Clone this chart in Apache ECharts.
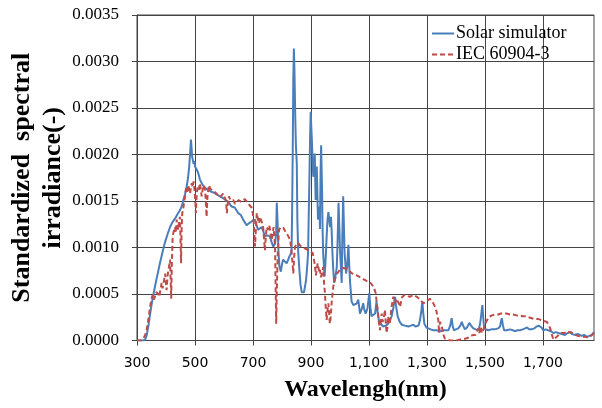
<!DOCTYPE html>
<html>
<head>
<meta charset="utf-8">
<script src="https://cdn.jsdelivr.net/npm/echarts@6/dist/echarts.min.js"></script>
<style>
html,body{margin:0;padding:0;background:#fff;}
#chart{width:602px;height:408px;}
</style>
</head>
<body>
<div id="chart"></div>
<script>
const seriesNames = ['Solar simulator', 'IEC 60904-3'];
const xTickValues = [300, 500, 700, 900, 1100, 1300, 1500, 1700];
const xTickLabels = ['300', '500', '700', '900', '1,100', '1,300', '1,500', '1,700'];
const xRange = [300, 1876];
const yRange = [0, 0.0035];
const yStep = 0.0005;

// Solar simulator: [wavelength nm, standardized irradiance]
const solarSimulator = [
[300,0],[320,0],[328,0.00001],[333,0.00005],[339,0.00015],[345,0.00028],[351,0.0004],[357,0.0005],
[362,0.00058],[370,0.0007],[379,0.00083],[388,0.00095],[396,0.00105],[405,0.00114],[414,0.00122],
[422,0.00127],[431,0.00131],[440,0.00136],[448,0.0014],[455,0.00145],[460,0.00151],[466,0.00158],
[471,0.00165],[476,0.00175],[480,0.00187],[484,0.00205],[486,0.00216],[488,0.00208],[490,0.00198],
[492,0.002],[495,0.0019],[498,0.00193],[500,0.00187],[504,0.00185],[509,0.00182],[513,0.00178],
[517,0.00173],[525,0.00168],[534,0.00164],[545,0.00162],[556,0.0016],[565,0.00159],[575,0.00157],
[586,0.00155],[597,0.00153],[603,0.00153],[615,0.00149],[626,0.00144],[637,0.00143],[649,0.00137],
[658,0.00135],[666,0.0013],[672,0.00128],[678,0.00124],[686,0.00126],[695,0.00128],[701,0.0013],
[707,0.0013],[712,0.00124],[718,0.00119],[724,0.00121],[730,0.00122],[736,0.00117],[741,0.00112],
[750,0.00113],[758,0.00112],[764,0.00106],[770,0.00101],[776,0.00104],[780,0.00115],[782,0.00148],
[785,0.00125],[788,0.00095],[791,0.0008],[796,0.00074],[800,0.00082],[804,0.00087],[810,0.00085],
[816,0.00083],[820,0.00086],[825,0.0009],[830,0.00093],[833,0.00097],[835,0.0014],[837,0.00201],
[839,0.0028],[841,0.00314],[843,0.0029],[846,0.00237],[848,0.0021],[851,0.00191],[853,0.0013],
[856,0.00095],[860,0.00076],[864,0.0006],[868,0.00052],[872,0.0005],[876,0.00052],[883,0.00065],
[887,0.0008],[890,0.00094],[894,0.00165],[897,0.0022],[899,0.00246],[901,0.0023],[903,0.00216],
[906,0.0019],[908,0.00176],[911,0.0019],[913,0.00201],[916,0.00151],[918,0.0017],[920,0.00187],
[922,0.0016],[924,0.0013],[927,0.0014],[929,0.00144],[931,0.0012],[933,0.0018],[935,0.0021],
[938,0.00165],[940,0.0012],[942,0.00094],[947,0.00069],[951,0.0009],[954,0.00112],[957,0.0013],
[960,0.00138],[963,0.0013],[966,0.00122],[969,0.00133],[971,0.0012],[974,0.00094],[977,0.00075],
[980,0.00062],[985,0.0007],[989,0.00079],[992,0.0011],[995,0.00148],[998,0.0012],[1000,0.00097],
[1003,0.0008],[1006,0.00062],[1008,0.0011],[1011,0.00155],[1013,0.0013],[1016,0.00094],[1021,0.00072],
[1025,0.0008],[1029,0.00103],[1032,0.0008],[1035,0.00062],[1040,0.00042],[1046,0.00038],[1052,0.00036],
[1058,0.0004],[1063,0.00044],[1069,0.00029],[1075,0.00034],[1080,0.0004],[1084,0.00033],[1089,0.00029],
[1095,0.00035],[1101,0.00051],[1105,0.00035],[1109,0.00026],[1115,0.00027],[1121,0.00029],[1126,0.00042],
[1130,0.0003],[1134,0.00022],[1140,0.00018],[1149,0.00015],[1158,0.00016],[1166,0.00018],[1172,0.0002],
[1178,0.00026],[1184,0.00035],[1188,0.00044],[1190,0.00047],[1193,0.00038],[1199,0.00026],[1206,0.0002],
[1213,0.00017],[1224,0.00016],[1236,0.00015],[1245,0.00016],[1253,0.00017],[1260,0.00015],[1265,0.00013],
[1271,0.00016],[1276,0.00022],[1281,0.00033],[1284,0.00042],[1287,0.0003],[1291,0.00018],[1298,0.00014],
[1305,0.00013],[1313,0.00012],[1322,0.00011],[1333,0.00011],[1345,0.0001],[1360,0.00011],[1374,0.00011],
[1380,0.00016],[1385,0.00024],[1389,0.00015],[1393,0.00011],[1400,0.00012],[1408,0.00013],[1415,0.00016],
[1420,0.0002],[1426,0.00015],[1431,0.00012],[1438,0.00014],[1446,0.00019],[1452,0.00016],[1460,0.00013],
[1468,0.00012],[1477,0.00011],[1482,0.00016],[1485,0.00022],[1489,0.00033],[1491,0.00038],[1494,0.00025],
[1497,0.00013],[1504,0.00012],[1511,0.00011],[1522,0.00012],[1534,0.00012],[1545,0.00013],[1552,0.00015],
[1555,0.0002],[1558,0.00024],[1562,0.00016],[1566,0.00011],[1575,0.00011],[1586,0.00012],[1596,0.00011],
[1603,0.0001],[1612,0.00011],[1621,0.00011],[1630,0.00012],[1638,0.00013],[1645,0.00014],[1652,0.00012],
[1661,0.00012],[1670,0.00013],[1678,0.00015],[1685,0.00016],[1690,0.00018],[1695,0.00014],[1701,0.00011],
[1710,0.00012],[1718,0.00011],[1727,0.0001],[1736,0.00008],[1745,0.00009],[1753,0.00008],[1765,0.00007],
[1776,0.00006],[1785,0.00008],[1793,0.00009],[1800,0.00007],[1810,0.00006],[1820,0.00007],[1833,0.00005],
[1842,0.00006],[1851,0.00004],[1860,0.00005],[1868,0.00006],[1876,0.00009]
];

// IEC 60904-3 reference spectrum: [wavelength nm, standardized irradiance]
const iec60904 = [
[300,0],[315,0],[322,0.00002],[328,0.00006],[333,0.00011],[339,0.00022],[345,0.00036],[350,0.00045],
[354,0.00049],[358,0.00044],[362,0.00047],[366,0.00052],[370,0.00054],[374,0.0005],[377,0.00047],
[381,0.00055],[385,0.00062],[388,0.00056],[391,0.00058],[394,0.00066],[397,0.00072],[400,0.00062],
[402,0.00054],[405,0.00068],[408,0.00076],[411,0.0008],[414,0.00087],[416,0.00065],[418,0.00045],
[420,0.0008],[423,0.00112],[427,0.00118],[431,0.00122],[434,0.00116],[437,0.0013],[440,0.00124],
[442,0.00119],[445,0.00128],[448,0.00133],[450,0.0011],[452,0.00083],[454,0.0012],[456,0.00137],
[459,0.0014],[462,0.00148],[466,0.00155],[469,0.00164],[473,0.0016],[477,0.00167],[480,0.00162],
[483,0.00158],[486,0.00165],[489,0.00169],[492,0.00165],[495,0.00171],[498,0.00163],[501,0.0015],
[503,0.00137],[506,0.00158],[509,0.00165],[513,0.00162],[517,0.00169],[520,0.00162],[523,0.00155],
[527,0.00163],[531,0.00167],[535,0.00162],[538,0.00145],[540,0.00133],[543,0.00155],[548,0.00167],
[553,0.00163],[558,0.00165],[563,0.00161],[569,0.00162],[574,0.00158],[580,0.00158],[586,0.00154],
[592,0.00156],[597,0.00158],[603,0.0016],[607,0.0015],[610,0.00137],[613,0.00148],[617,0.00155],
[622,0.00151],[627,0.00153],[632,0.00151],[638,0.00147],[644,0.00149],[650,0.00151],[655,0.00153],
[660,0.00149],[666,0.00149],[672,0.00152],[678,0.00151],[684,0.00147],[690,0.00149],[695,0.00143],
[699,0.00137],[701,0.00133],[704,0.0012],[707,0.00101],[710,0.0012],[713,0.00137],[717,0.0013],
[721,0.00126],[724,0.00133],[728,0.00131],[732,0.00126],[735,0.00122],[738,0.0011],[741,0.00097],
[744,0.0011],[747,0.00122],[750,0.0012],[753,0.00119],[756,0.00124],[759,0.00122],[762,0.00113],
[765,0.00108],[768,0.00116],[771,0.00122],[774,0.0011],[776,0.00101],[778,0.0006],[780,0.00018],
[782,0.0005],[785,0.0009],[788,0.0011],[790,0.00119],[796,0.00122],[800,0.0012],[805,0.00121],
[810,0.00118],[816,0.00115],[822,0.00112],[828,0.00108],[832,0.001],[835,0.00088],[839,0.00072],
[842,0.0009],[845,0.00101],[850,0.00103],[856,0.00105],[862,0.00102],[868,0.00103],[874,0.001],
[879,0.00101],[885,0.00098],[891,0.00099],[896,0.00096],[902,0.00097],[906,0.00094],[910,0.00088],
[914,0.00079],[917,0.0007],[920,0.00072],[923,0.00083],[926,0.00078],[929,0.00073],[931,0.00076],
[934,0.00068],[937,0.00069],[940,0.00075],[942,0.00079],[945,0.00062],[948,0.00051],[951,0.00035],
[954,0.00022],[957,0.00033],[960,0.0004],[963,0.00028],[965,0.00018],[968,0.00025],[971,0.0004],
[974,0.0005],[977,0.00058],[981,0.00064],[986,0.00069],[990,0.00072],[994,0.00074],[1000,0.00076],
[1006,0.00078],[1012,0.00078],[1017,0.00078],[1023,0.00077],[1029,0.00076],[1035,0.00074],[1040,0.00072],
[1046,0.00071],[1052,0.0007],[1058,0.0007],[1063,0.00069],[1069,0.00068],[1075,0.00066],[1080,0.00066],
[1086,0.00065],[1092,0.00064],[1098,0.00063],[1103,0.00063],[1109,0.00061],[1115,0.00058],[1119,0.00055],
[1123,0.00051],[1127,0.0004],[1130,0.00033],[1134,0.0002],[1138,0.00011],[1141,0.00022],[1144,0.00029],
[1147,0.0002],[1149,0.00018],[1152,0.00026],[1155,0.00033],[1158,0.00018],[1161,0.00008],[1164,0.00016],
[1166,0.00026],[1169,0.00021],[1172,0.00018],[1175,0.00028],[1178,0.00036],[1181,0.00042],[1184,0.00047],
[1187,0.00044],[1190,0.0004],[1194,0.00045],[1199,0.00047],[1203,0.0004],[1207,0.00036],[1211,0.00042],
[1215,0.00047],[1220,0.00048],[1224,0.00049],[1232,0.00048],[1241,0.00047],[1247,0.00048],[1253,0.00049],
[1259,0.00048],[1265,0.00047],[1270,0.00046],[1276,0.00044],[1281,0.00042],[1287,0.0004],[1293,0.00041],
[1299,0.00042],[1305,0.00044],[1310,0.00045],[1316,0.00043],[1322,0.0004],[1328,0.00036],[1333,0.00031],
[1336,0.00026],[1339,0.00022],[1342,0.00008],[1345,0.0002],[1348,0.00022],[1351,0.00015],[1354,0.00011],
[1358,0.00005],[1362,0.00002],[1368,0.00001],[1380,0],[1392,0],[1402,0],[1414,0.00001],[1425,0.00002],
[1433,0.00002],[1442,0.00003],[1451,0.00005],[1460,0.00006],[1467,0.00006],[1472,0.0001],[1477,0.00013],
[1480,0.00008],[1483,0.00008],[1486,0.00015],[1489,0.00008],[1492,0.00006],[1495,0.00012],[1500,0.00017],
[1504,0.0002],[1508,0.00022],[1513,0.00025],[1517,0.00026],[1523,0.00027],[1529,0.00027],[1537,0.00028],
[1546,0.00028],[1555,0.00029],[1563,0.00029],[1574,0.00029],[1586,0.00028],[1597,0.00028],[1609,0.00027],
[1620,0.00027],[1630,0.00026],[1638,0.00026],[1650,0.00025],[1661,0.00024],[1672,0.00023],[1684,0.00023],
[1695,0.00022],[1704,0.00021],[1713,0.0002],[1720,0.00017],[1726,0.00012],[1731,0.00006],[1736,0.00001],
[1742,0.00002],[1748,0.00004],[1754,0.00006],[1760,0.00008],[1768,0.00008],[1775,0.00008],[1782,0.0001],
[1790,0.00009],[1797,0.00009],[1805,0.00007],[1810,0.00006],[1820,0.00005],[1833,0.00004],[1845,0.00004],
[1856,0.00003],[1866,0.00005],[1876,0.00008]
];

const chart = echarts.init(document.getElementById('chart'), null, {renderer: 'canvas'});
const gridColor = '#444';
const option = {
  animation: false,
  backgroundColor: '#fff',
  grid: {left: 137, right: 8, top: 15, bottom: 67.5, containLabel: false, outerBoundsMode: 'none',
    show: true, borderColor: gridColor, borderWidth: 1, backgroundColor: 'transparent'},
  legend: {
    orient: 'vertical', left: 431, top: 24.5, padding: 0, itemGap: 3,
    itemWidth: 22, itemHeight: 14,
    itemStyle: {color: 'rgba(0,0,0,0)', borderColor: 'rgba(0,0,0,0)', borderWidth: 0, opacity: 0},
    textStyle: {fontFamily: 'Liberation Serif', fontSize: 18, color: '#000', padding: [0, 0, 0, -3]},
    data: seriesNames
  },
  xAxis: {
    type: 'value', min: xRange[0], max: xRange[1],
    name: 'Wavelengh(nm)', nameLocation: 'middle', nameGap: 37, nameMoveOverlap: false,
    nameTextStyle: {fontFamily: 'Liberation Serif', fontWeight: 'bold', fontSize: 24, color: '#000'},
    axisLine: {show: true, lineStyle: {color: gridColor, width: 1}},
    axisTick: {show: true, length: 5, customValues: xTickValues, lineStyle: {color: gridColor}},
    axisLabel: {customValues: xTickValues, margin: 16, fontFamily: 'DejaVu Sans', fontSize: 14, color: '#000',
      formatter: function (v) { const i = xTickValues.indexOf(v); return i >= 0 ? xTickLabels[i] : ''; }},
    splitLine: {show: true, lineStyle: {color: gridColor, width: 1}}
  },
  yAxis: {
    type: 'value', min: yRange[0], max: yRange[1], interval: yStep,
    name: 'Standardized  spectral\nirradiance(-)', nameLocation: 'middle', nameGap: 68.5, nameRotate: 90,
    nameMoveOverlap: false,
    nameTextStyle: {fontFamily: 'Liberation Serif', fontWeight: 'bold', fontSize: 26, lineHeight: 31, color: '#000', align: 'center'},
    axisLine: {show: true, lineStyle: {color: gridColor, width: 1}},
    axisTick: {show: true, length: 5, lineStyle: {color: gridColor}},
    axisLabel: {margin: 18, fontFamily: 'Liberation Serif', fontSize: 17, color: '#000',
      formatter: function (v) { return v.toFixed(4); }},
    splitLine: {show: true, lineStyle: {color: gridColor, width: 1}}
  },
  series: [
    {name: seriesNames[0], type: 'line', data: solarSimulator, symbol: 'none', z: 3,
     lineStyle: {color: '#4A7EBB', width: 2}, itemStyle: {color: '#4A7EBB'}},
    {name: seriesNames[1], type: 'line', data: iec60904, symbol: 'none', z: 4,
     lineStyle: {color: '#BE4B48', width: 2, type: [5, 3]}, itemStyle: {color: '#BE4B48'}}
  ]
};
chart.setOption(option);
</script>
</body>
</html>
